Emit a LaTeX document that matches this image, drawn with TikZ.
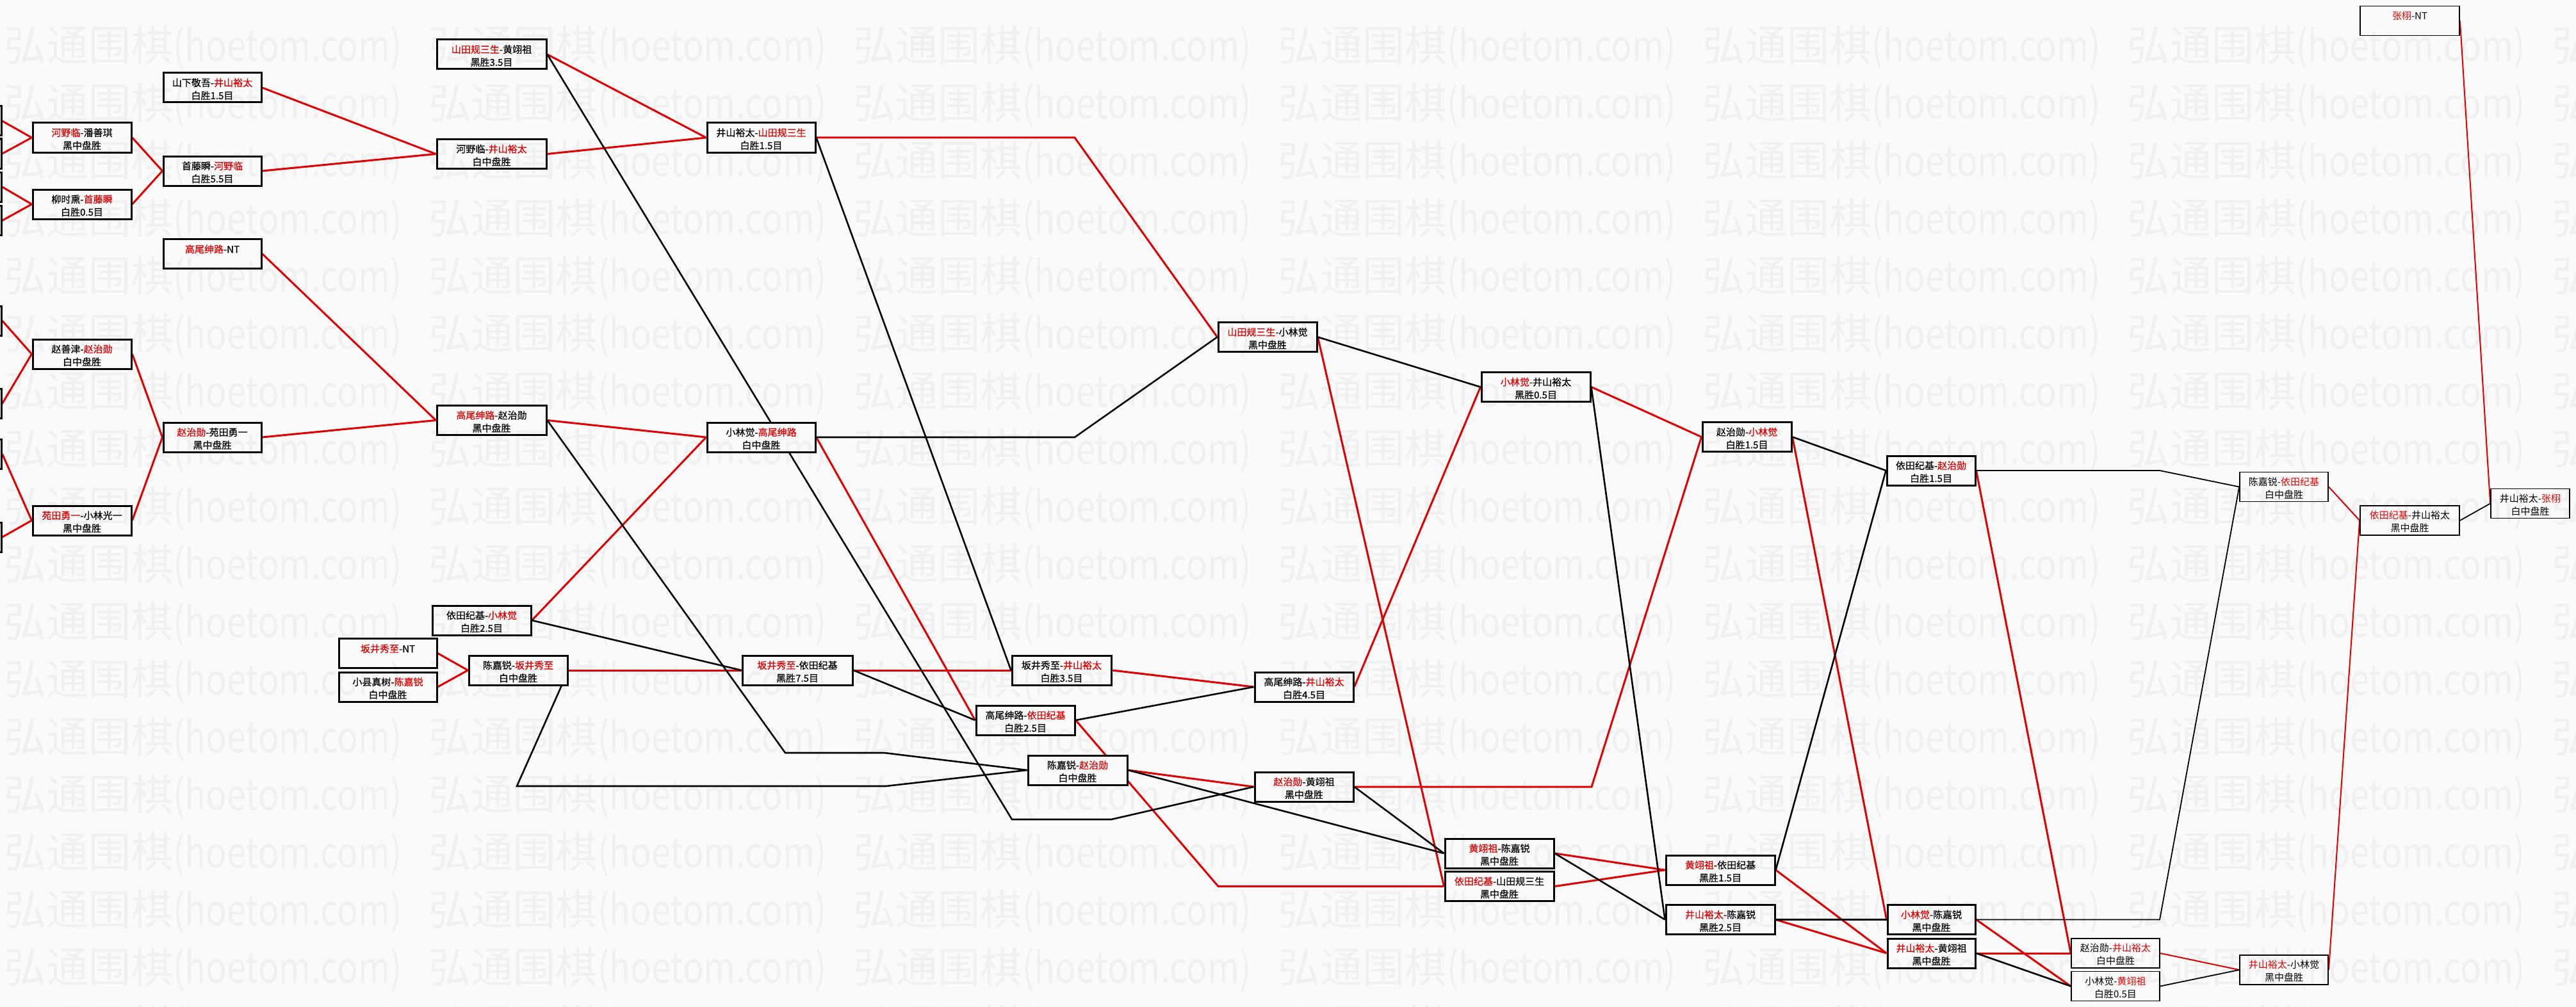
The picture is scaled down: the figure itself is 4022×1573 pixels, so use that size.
\documentclass[tikz,border=0pt]{standalone}
\usepackage{fontspec}
\usepackage{graphicx}
\setmainfont{Noto Sans CJK SC}
\newfontfamily\heavycjk{Noto Sans CJK SC}[FakeBold=0.6]
\definecolor{wr}{RGB}{228,0,0}
\definecolor{bgc}{RGB}{250,250,250}
\newcommand\rn[1]{\textcolor{wr}{#1}}
\newcommand\up{\rule{0pt}{17pt}}
\pgfdeclarelayer{back}
\pgfdeclarelayer{lines}
\pgfdeclarelayer{front}
\pgfsetlayers{back,lines,main,front}
\begin{document}
\begin{tikzpicture}[x=1pt,y=-1pt,
  gbox/.style={draw=black, line width=3pt, fill=bgc, inner sep=0pt, align=center,
    font=\heavycjk\fontsize{15}{20}\selectfont, minimum height=46pt},
  tbox/.style={gbox, line width=1.8pt, font=\fontsize{15}{20}\selectfont},
  rl/.style={draw=wr, line width=3pt},
  bl/.style={draw=black, line width=2.6pt},
  rlt/.style={draw=wr, line width=2pt},
  blt/.style={draw=black, line width=1.8pt},
  wm/.style={anchor=north west, inner sep=0pt, font=\fontsize{66}{66}\selectfont,
    text=black, text opacity=0.04}]
\useasboundingbox (0,0) rectangle (4022,1573);
\clip (0,0) rectangle (4022,1573);
\begin{pgfonlayer}{back}
\fill[bgc] (0,0) rectangle (4022,1573);
\end{pgfonlayer}

% boxes cut by the left edge
\foreach \n/\y in {La/189, Lb/240, Lc/292, Ld/344.5, Le/501, Lf/630.5, Lg/709, Lh/839}
  {\node[gbox, minimum width=152pt] (\n) at (-74,\y) {};}

% column B
\node[gbox, minimum width=154pt] (B1) at (128,215) {\up\rn{河野临}-潘善琪\\黑中盘胜};
\node[gbox, minimum width=154pt] (B2) at (128,319) {\up 柳时熏-\rn{首藤瞬}\\白胜0.5目};
\node[gbox, minimum width=154pt] (B3) at (128,553) {\up 赵善津-\rn{赵治勋}\\白中盘胜};
\node[gbox, minimum width=154pt] (B4) at (128,813) {\up\rn{苑田勇一}-小林光一\\黑中盘胜};

% column C
\node[gbox, minimum width=153pt] (C1) at (331.5,137) {\up 山下敬吾-\rn{井山裕太}\\白胜1.5目};
\node[gbox, minimum width=153pt] (C2) at (331.5,267) {\up 首藤瞬-\rn{河野临}\\白胜5.5目};
\node[gbox, minimum width=153pt] (C3) at (331.5,396.5) {\up\rn{高尾绅路}-NT\\~};
\node[gbox, minimum width=153pt] (C4) at (331.5,683) {\up\rn{赵治勋}-苑田勇一\\黑中盘胜};

% column D
\node[gbox, minimum width=171pt] (D1) at (767.5,85) {\up\rn{山田规三生}-黄翊祖\\黑胜3.5目};
\node[gbox, minimum width=171pt] (D2) at (767.5,240.5) {\up 河野临-\rn{井山裕太}\\白中盘胜};
\node[gbox, minimum width=171pt] (D3) at (767.5,656.5) {\up\rn{高尾绅路}-赵治勋\\黑中盘胜};
\node[gbox, minimum width=154pt] (D4) at (752,969) {\up 依田纪基-\rn{小林觉}\\白胜2.5目};

% lower left group
\node[gbox, minimum width=153pt] (G1) at (605.5,1020.5) {\up\rn{坂井秀至}-NT\\~};
\node[gbox, minimum width=153pt] (G2) at (605.5,1073) {\up 小县真树-\rn{陈嘉锐}\\白中盘胜};
\node[gbox, minimum width=154pt] (G3) at (809,1047) {\up 陈嘉锐-\rn{坂井秀至}\\白中盘胜};

% column E / H
\node[gbox, minimum width=169pt] (E1) at (1188.5,215) {\up 井山裕太-\rn{山田规三生}\\白胜1.5目};
\node[gbox, minimum width=169pt] (E2) at (1188.5,683) {\up 小林觉-\rn{高尾绅路}\\白中盘胜};
\node[gbox, minimum width=172pt] (H1) at (1245,1047) {\up\rn{坂井秀至}-依田纪基\\黑胜7.5目};

% column I
\node[gbox, minimum width=155pt] (I1) at (1657.5,1047) {\up 坂井秀至-\rn{井山裕太}\\白胜3.5目};
\node[gbox, minimum width=154pt] (I2) at (1601,1125) {\up 高尾绅路-\rn{依田纪基}\\白胜2.5目};
\node[gbox, minimum width=155pt] (I3) at (1682.5,1203) {\up 陈嘉锐-\rn{赵治勋}\\白中盘胜};

% column K / J
\node[gbox, minimum width=154pt] (K) at (1979,526.5) {\up\rn{山田规三生}-小林觉\\黑中盘胜};
\node[gbox, minimum width=154pt] (J1) at (2036,1073) {\up 高尾绅路-\rn{井山裕太}\\白胜4.5目};
\node[gbox, minimum width=154pt] (J2) at (2036,1229) {\up\rn{赵治勋}-黄翊祖\\黑中盘胜};

% column L / Y
\node[gbox, minimum width=170pt] (L1) at (2398,604.5) {\up\rn{小林觉}-井山裕太\\黑胜0.5目};
\node[gbox, minimum width=170pt] (Y1) at (2341,1333) {\up\rn{黄翊祖}-陈嘉锐\\黑中盘胜};
\node[gbox, minimum width=170pt] (Y2) at (2341,1384.5) {\up\rn{依田纪基}-山田规三生\\黑中盘胜};

% column M / Z
\node[gbox, minimum width=139pt] (M1) at (2727.5,682.5) {\up 赵治勋-\rn{小林觉}\\白胜1.5目};
\node[gbox, minimum width=170pt] (Z1) at (2686,1359) {\up\rn{黄翊祖}-依田纪基\\黑胜1.5目};
\node[gbox, minimum width=170pt] (Z2) at (2686,1436.5) {\up\rn{井山裕太}-陈嘉锐\\黑胜2.5目};

% column M2 / N
\node[gbox, minimum width=138pt] (M2) at (3015,735) {\up 依田纪基-\rn{赵治勋}\\白胜1.5目};
\node[gbox, minimum width=137pt] (N1) at (3015.5,1436.5) {\up\rn{小林觉}-陈嘉锐\\黑中盘胜};
\node[gbox, minimum width=137pt] (N2) at (3015.5,1489) {\up\rn{井山裕太}-黄翊祖\\黑中盘胜};

% right part (thin boxes)
\node[tbox, minimum width=138pt] (O1) at (3303,1489) {\up 赵治勋-\rn{井山裕太}\\白中盘胜};
\node[tbox, minimum width=138pt] (O2) at (3303,1540.5) {\up 小林觉-\rn{黄翊祖}\\白胜0.5目};
\node[tbox, minimum width=138pt] (P) at (3566,1515) {\up\rn{井山裕太}-小林觉\\黑中盘胜};
\node[tbox, minimum width=138pt] (Q) at (3566,760.5) {\up 陈嘉锐-\rn{依田纪基}\\白中盘胜};
\node[tbox, minimum width=155pt] (R) at (3762.5,813) {\up\rn{依田纪基}-井山裕太\\黑中盘胜};
\node[tbox, minimum width=123pt] (S) at (3950.5,786.5) {\up 井山裕太-\rn{张栩}\\白中盘胜};
\node[tbox, minimum width=155pt] (T) at (3762.5,32.5) {\up\rn{张栩}-NT\\~};

% bend points
\coordinate (e1b) at (1678,215);
\coordinate (e2b) at (1678,683);
\coordinate (d1b1) at (1580,1280);
\coordinate (d1b2) at (1735,1280);
\coordinate (d3b1) at (1226,1176);
\coordinate (d3b2) at (1381,1176);
\coordinate (g3b1) at (807,1228);
\coordinate (g3b2) at (1383,1228);
\coordinate (i2b) at (1902,1384.5);
\coordinate (j2b) at (2485,1229);
\coordinate (m2b) at (3372,735);
\coordinate (n1b) at (3372,1436.5);

\begin{pgfonlayer}{lines}
% red (winner) connectors
\draw[rl] (La.east) -- (B1.west);
\draw[rl] (Lb.east) -- (B1.west);
\draw[rl] (Lc.east) -- (B2.west);
\draw[rl] (Ld.east) -- (B2.west);
\draw[rl] (Le.east) -- (B3.west);
\draw[rl] (Lf.east) -- (B3.west);
\draw[rl] (Lg.east) -- (B4.west);
\draw[rl] (Lh.east) -- (B4.west);
\draw[rl] (B1.east) -- (C2.west);
\draw[rl] (B2.east) -- (C2.west);
\draw[rl] (B3.east) -- (C4.west);
\draw[rl] (B4.east) -- (C4.west);
\draw[rl] (C1.east) -- (D2.west);
\draw[rl] (C2.east) -- (D2.west);
\draw[rl] (C3.east) -- (D3.west);
\draw[rl] (C4.east) -- (D3.west);
\draw[rl] (D1.east) -- (E1.west);
\draw[rl] (D2.east) -- (E1.west);
\draw[rl] (D3.east) -- (E2.west);
\draw[rl] (D4.east) -- (E2.west);
\draw[rl] (G1.east) -- (G3.west);
\draw[rl] (G2.east) -- (G3.west);
\draw[rl] (G3.east) -- (H1.west);
\draw[rl] (E1.east) -- (e1b) -- (K.west);
\draw[rl] (H1.east) -- (I1.west);
\draw[rl] (E2.east) -- (I2.west);
\draw[rl] (I1.east) -- (J1.west);
\draw[rl] (I2.east) -- (i2b) -- (Y2.west);
\draw[rl] (I3.east) -- (J2.west);
\draw[rl] (K.east) -- (Y2.west);
\draw[rl] (J1.east) -- (L1.west);
\draw[rl] (J2.east) -- (j2b) -- (M1.west);
\draw[rl] (L1.east) -- (M1.west);
\draw[rl] (Y1.east) -- (Z1.west);
\draw[rl] (Y2.east) -- (Z1.west);
\draw[rl] (Z1.east) -- (N2.west);
\draw[rl] (Z2.east) -- (N2.west);
\draw[rl] (M1.east) -- (N1.west);
\draw[rl] (M2.east) -- (O1.west);
\draw[rl] (N1.east) -- (O2.west);
\draw[rl] (N2.east) -- (O1.west);
\draw[rlt] (O1.east) -- (P.west);
\draw[rlt] (Q.east) -- (R.west);
\draw[rlt] (P.east) -- (R.west);
\draw[rlt] (T.east) -- (S.west);
% black (loser) connectors
\draw[bl] (D1.east) -- (d1b1) -- (d1b2) -- (J2.west);
\draw[bl] (D3.east) -- (d3b1) -- (d3b2) -- (I3.west);
\draw[bl] (G3.east) -- (g3b1) -- (g3b2) -- (I3.west);
\draw[bl] (D4.east) -- (H1.west);
\draw[bl] (E1.east) -- (I1.west);
\draw[bl] (E2.east) -- (e2b) -- (K.west);
\draw[bl] (H1.east) -- (I2.west);
\draw[bl] (I2.east) -- (J1.west);
\draw[bl] (I3.east) -- (Y1.west);
\draw[bl] (J2.east) -- (Y1.west);
\draw[bl] (K.east) -- (L1.west);
\draw[bl] (L1.east) -- (Z2.west);
\draw[bl] (Y1.east) -- (Z2.west);
\draw[bl] (M1.east) -- (M2.west);
\draw[bl] (Z1.east) -- (M2.west);
\draw[bl] (Z2.east) -- (N1.west);
\draw[blt] (M2.east) -- (m2b) -- (Q.west);
\draw[blt] (N1.east) -- (n1b) -- (Q.west);
\draw[bl] (N2.east) -- (O2.west);
\draw[blt] (O2.east) -- (P.west);
\draw[blt] (R.east) -- (S.west);
\end{pgfonlayer}

% watermark
\begin{pgfonlayer}{front}
\foreach \r in {0,...,17}{
  \foreach \c in {0,...,6}{
    \node[wm] (wm-\r-\c) at ({6+663*\c},{40+90*\r}) {弘通围棋\scalebox{0.82}[1]{(hoetom.com)}};
  }
}
\end{pgfonlayer}
\end{tikzpicture}
\end{document}
